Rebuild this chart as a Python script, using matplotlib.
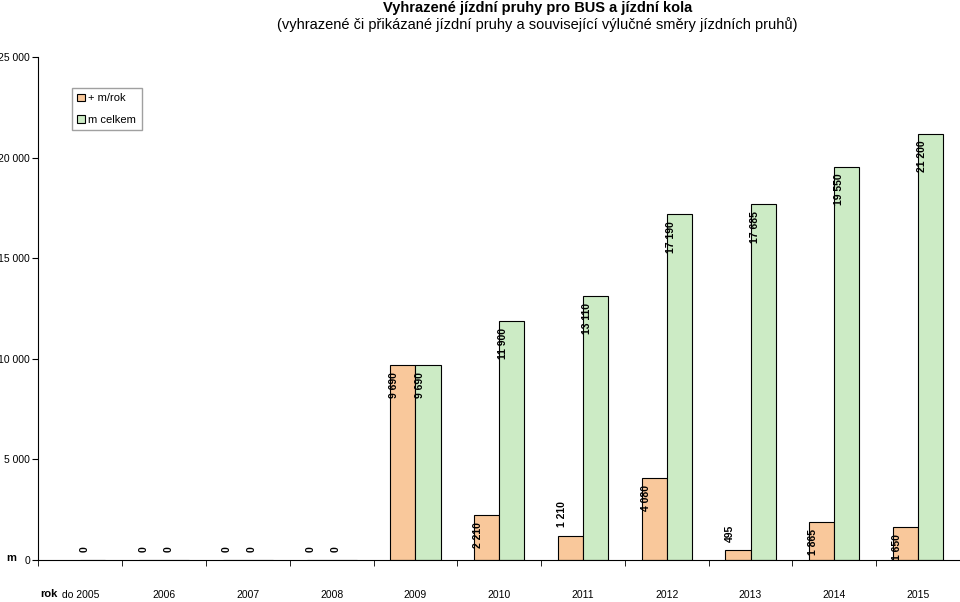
import numpy as np
import matplotlib.pyplot as plt

plt.rcParams["font.family"] = "Liberation Sans"

years = ["do 2005", "2006", "2007", "2008", "2009", "2010", "2011", "2012", "2013", "2014", "2015"]
m_rok = [np.nan, 0, 0, 0, 9690, 2210, 1210, 4080, 495, 1865, 1650]
m_celkem = [0, 0, 0, 0, 9690, 11900, 13110, 17190, 17685, 19550, 21200]

def fmt(v):
    return f"{int(v):,}".replace(",", " ")

fig = plt.figure(figsize=(9.6, 6.02), dpi=100)
ax = fig.add_axes([0.04, 0.07, 0.96, 0.835])

x = np.arange(len(years))
w = 0.3
b1 = ax.bar(x - w / 2, m_rok, w, color="#F9C89B", edgecolor="black", linewidth=0.8, label="+ m/rok")
b2 = ax.bar(x + w / 2, m_celkem, w, color="#CCEBC5", edgecolor="black", linewidth=0.8, label="m celkem")

for bars, vals in ((b1, m_rok), (b2, m_celkem)):
    for rect, v in zip(bars, vals):
        if np.isnan(v):
            continue
        cx = rect.get_x() + rect.get_width() / 2 - 0.1
        if v >= 1500:
            ax.annotate(fmt(v), (cx, v), xytext=(0, -5), textcoords="offset points", rotation=90,
                        ha="center", va="top", fontsize=7.5, fontweight="bold")
        else:
            ax.annotate(fmt(v), (cx, v), xytext=(0, 6), textcoords="offset points", rotation=90,
                        ha="center", va="bottom", fontsize=7.5, fontweight="bold")

ax.set_xlim(-0.5, len(years) - 0.5)
ax.set_ylim(0, 25000)
ax.set_yticks(range(0, 25001, 5000))
ax.set_yticklabels([fmt(v) for v in range(0, 25001, 5000)], fontsize=7.5)
ax.set_xticks(x)
ax.set_xticklabels(years, fontsize=7.5)
ax.set_xticks(np.arange(-0.5, len(years)), minor=True)
ax.tick_params(axis="x", which="major", length=0, pad=22)
ax.tick_params(axis="x", which="minor", length=4)
ax.tick_params(axis="y", length=4, pad=2)
for s in ("top", "right"):
    ax.spines[s].set_visible(False)

ax.legend(loc="upper left", bbox_to_anchor=(0.03, 0.95), fontsize=8, frameon=True, fancybox=False,
          edgecolor="#888888", handlelength=0.7, handleheight=0.7, borderpad=0.5, labelspacing=1.0,
          handletextpad=0.3)

fig.text(0.006, 0.073, "m", fontsize=8, fontweight="bold", va="center")
fig.text(0.042, 0.005, "rok", fontsize=8, fontweight="bold", va="bottom")
fig.text(0.56, 0.998, "Vyhrazené jízdní pruhy pro BUS a jízdní kola", ha="center", va="top",
         fontsize=10.5, fontweight="bold")
fig.text(0.56, 0.972, "(vyhrazené či přikázané jízdní pruhy a související výlučné směry jízdních pruhů)",
         ha="center", va="top", fontsize=10.5)

fig.savefig("out.png", dpi=100)
